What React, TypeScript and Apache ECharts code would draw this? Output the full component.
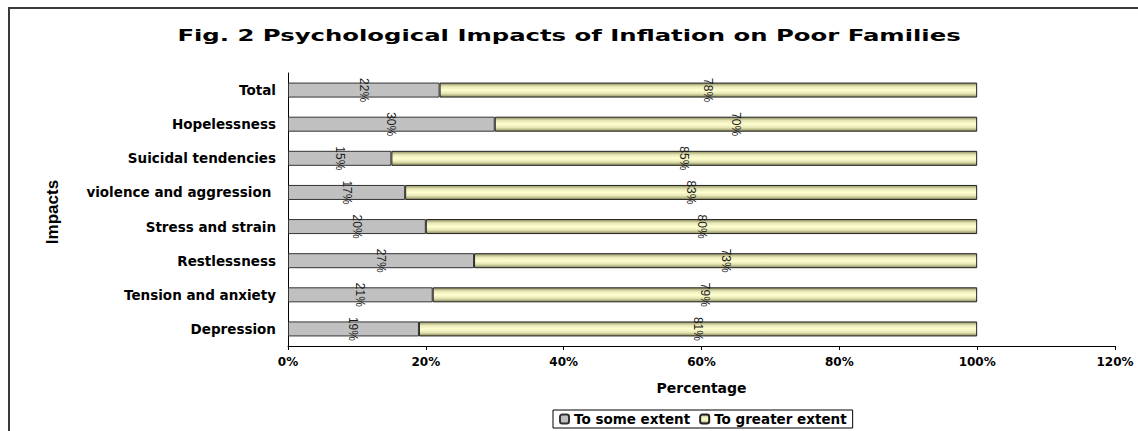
import React, { useEffect, useRef } from "react";
import * as echarts from "echarts";

const categories = [
  "Total",
  "Hopelessness",
  "Suicidal tendencies",
  "violence and aggression ",
  "Stress and strain",
  "Restlessness",
  "Tension and anxiety",
  "Depression",
];
const someExtent = [22, 30, 15, 17, 20, 27, 21, 19];
const greaterExtent = [78, 70, 85, 83, 80, 73, 79, 81];
const seriesNames = ["To some extent", "To greater extent"];
const titleText = "Fig. 2 Psychological Impacts of Inflation on Poor Families";

function measure(text: string, font: string): number {
  const c = document.createElement("canvas");
  const ctx = c.getContext("2d");
  if (!ctx) return text.length * 9;
  ctx.font = font;
  return ctx.measureText(text).width;
}

export default function App() {
  const ref = useRef<HTMLDivElement>(null);
  useEffect(() => {
    if (!ref.current) return;
    const chart = echarts.init(ref.current, null, { renderer: "svg" });
    const titleFont = 'bold 16px "DejaVu Sans"';
    const tw = measure(titleText, titleFont);
    const titleScale = 784 / tw;

    const yellow = new echarts.graphic.LinearGradient(0, 0, 0, 1, [
      { offset: 0, color: "#8f8f60" },
      { offset: 0.25, color: "#e8e8b8" },
      { offset: 0.5, color: "#ffffd0" },
      { offset: 0.75, color: "#e6e6b5" },
      { offset: 1, color: "#8a8a5c" },
    ]);

    const labelStyle = {
      show: true,
      position: "inside" as const,
      rotate: -90,
      formatter: "{c}%",
      color: "#1a1a1a",
      fontFamily: "Liberation Sans",
      fontSize: 12,
    };

    chart.setOption({
      animation: false,
      backgroundColor: "#ffffff",
      grid: { left: 288, right: 23, top: 73, bottom: 85, containLabel: false },
      legend: {
        left: 553,
        top: 410,
        orient: "horizontal",
        itemWidth: 9,
        itemHeight: 9,
        itemGap: 9,
        padding: [2, 6],
        borderColor: "#000",
        borderWidth: 1,
        textStyle: {
          fontFamily: "DejaVu Sans",
          fontWeight: "bold",
          fontSize: 13.5,
          color: "#000",
        },
        data: seriesNames,
      },
      xAxis: {
        type: "value",
        min: 0,
        max: 120,
        interval: 20,
        name: "Percentage",
        nameLocation: "middle",
        nameGap: 35,
        nameTextStyle: {
          fontFamily: "DejaVu Sans",
          fontWeight: "bold",
          fontSize: 14,
          color: "#000",
        },
        axisLine: { show: true, lineStyle: { color: "#000", width: 1 } },
        axisTick: { show: true, length: 4, lineStyle: { color: "#000" } },
        splitLine: { show: false },
        axisLabel: {
          formatter: "{value}%",
          margin: 10,
          fontFamily: "DejaVu Sans",
          fontWeight: "bold",
          fontSize: 12,
          color: "#000",
        },
      },
      yAxis: {
        type: "category",
        inverse: true,
        data: categories,
        axisLine: { show: true, lineStyle: { color: "#000", width: 1 } },
        axisTick: { show: false },
        axisLabel: {
          margin: 12,
          fontFamily: "DejaVu Sans",
          fontWeight: "bold",
          fontSize: 13.5,
          color: "#000",
        },
      },
      graphic: [
        {
          type: "rect",
          shape: { x: 9, y: 8, width: 1140, height: 440 },
          style: { fill: "none", stroke: "#3a3a3a", lineWidth: 2 },
          silent: true,
        },
        {
          type: "text",
          x: 569,
          y: 36,
          scaleX: titleScale,
          style: {
            text: titleText,
            font: titleFont,
            fill: "#000",
            align: "center",
            verticalAlign: "middle",
          },
        },
        {
          type: "text",
          x: 52,
          y: 212,
          rotation: Math.PI / 2,
          style: {
            text: "Impacts",
            font: 'bold 17px "Liberation Sans"',
            fill: "#000",
            align: "center",
            verticalAlign: "middle",
          },
        },
      ],
      series: [
        {
          name: seriesNames[0],
          type: "bar",
          stack: "total",
          barWidth: 15,
          data: someExtent,
          itemStyle: { color: "#c0c0c0", borderColor: "#333", borderWidth: 1 },
          label: labelStyle,
        },
        {
          name: seriesNames[1],
          type: "bar",
          stack: "total",
          barWidth: 15,
          data: greaterExtent,
          itemStyle: { color: yellow, borderColor: "#222", borderWidth: 1 },
          label: labelStyle,
        },
      ],
    });
    return () => chart.dispose();
  }, []);
  return (
    <div
      ref={ref}
      style={{ position: "fixed", left: 0, top: 0, width: 1138, height: 431 }}
    />
  );
}
